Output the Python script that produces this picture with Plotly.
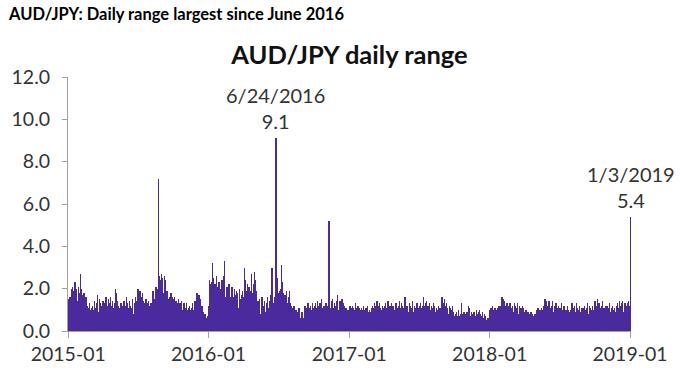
import pandas as pd
import plotly.graph_objects as go

# Daily AUD/JPY range (yen), one value per business day
range_2015 = [
    1.1, 1.5, 1.3, 1.6, 1.0, 1.4, 2.0, 1.7, 2.1, 1.6, 1.9, 1.8, 2.3, 1.5, 2.0, 1.7, 1.9, 1.4, 2.1, 1.6, 1.8, 1.5,
    2.7, 1.6, 2.0, 1.4, 1.7, 1.8, 1.2, 1.5, 1.8, 1.3, 1.6, 1.0, 0.9, 1.2, 0.8, 1.1, 0.9, 1.3, 0.8, 1.0,
    0.9, 0.7, 1.1, 0.8, 1.2, 1.0, 0.9, 1.4, 1.1, 0.8, 1.3, 1.0, 1.7, 1.2, 0.9, 1.5, 1.1, 1.3, 0.8, 1.2, 1.0, 1.4,
    1.2, 0.9, 1.4, 1.0, 1.3, 0.8, 1.6, 1.1, 0.9, 1.2, 1.0, 1.5, 0.8, 1.3, 1.6, 1.1, 0.9, 1.2, 1.4, 1.0, 0.8, 1.1,
    1.3, 2.0, 1.5, 1.8, 1.1, 1.4, 0.9, 1.2, 1.0, 0.8, 1.1, 1.3, 0.9, 1.0, 1.2, 0.7, 1.1, 1.4, 0.9, 1.0, 1.2,
    1.0, 1.6, 1.2, 0.9, 1.3, 1.1, 0.8, 1.4, 1.0, 1.2, 0.9, 1.1, 1.5, 1.0, 0.8, 1.2, 1.3, 0.9, 1.6, 1.1, 1.4, 1.0,
    1.4, 2.0, 1.7, 1.3, 1.9, 1.5, 1.2, 1.6, 1.8, 1.1, 1.4, 1.0, 1.3, 0.9, 1.2, 1.5, 1.1, 0.9, 1.3, 1.0, 1.4, 1.2, 0.9,
    1.0, 1.3, 0.9, 1.2, 1.1, 1.9, 1.4, 1.2, 1.5, 1.0, 2.1, 1.6, 1.3, 1.7, 2.0, 7.2, 2.6, 2.2, 1.8, 2.4, 1.7,
    2.7, 2.2, 1.9, 2.5, 1.8, 2.6, 2.0, 1.7, 2.4, 1.6, 1.9, 1.4, 1.7, 1.5, 1.3, 1.6, 1.2, 1.5, 1.8, 1.3, 1.4, 1.6,
    1.5, 1.3, 1.6, 1.2, 1.0, 1.4, 1.1, 1.3, 0.9, 1.2, 1.5, 1.0, 1.3, 1.1, 0.9, 1.2, 1.4, 1.0, 0.8, 1.1, 1.3, 1.0,
    1.1, 0.9, 1.2, 1.3, 0.8, 1.0, 1.1, 0.9, 1.2, 0.8, 1.0, 0.7, 1.1, 0.9, 1.3, 0.8, 1.0, 0.9, 1.2, 1.4, 0.9,
    1.2, 1.8, 1.0, 1.4, 1.7, 1.1, 1.3, 0.9, 1.5, 1.0, 1.2, 0.8, 1.1, 0.9, 0.7, 0.6, 0.8, 0.5, 0.6, 0.4, 0.7, 0.5, 0.6,
]
range_2016 = [
    1.2, 2.4, 1.8, 2.2, 1.6, 2.3, 1.9, 3.2, 2.0, 2.5, 1.7, 2.2, 1.8, 2.0, 1.5, 2.6, 1.9, 2.1, 1.6, 2.3, 1.8,
    2.0, 1.7, 2.2, 1.5, 2.4, 1.8, 2.1, 2.6, 3.3, 2.0, 1.6, 1.9, 1.4, 2.1, 1.7, 1.5, 2.2, 1.3, 1.8, 1.6, 2.0,
    1.5, 2.1, 1.3, 1.8, 1.6, 2.0, 1.2, 1.7, 1.4, 1.9, 1.5, 1.3, 1.8, 1.1, 1.6, 2.0, 1.4, 1.2, 1.5, 1.7, 1.3, 1.9, 1.4,
    1.6, 3.0, 2.0, 2.4, 1.7, 1.9, 2.2, 1.5, 1.8, 1.4, 2.1, 1.6, 1.3, 1.9, 1.5, 2.7, 1.8, 1.4, 2.0, 2.2, 2.8,
    2.4, 1.9, 1.6, 1.3, 1.1, 1.4, 0.9, 1.2, 1.0, 1.5, 0.8, 1.3, 1.1, 1.6, 0.9, 1.2, 1.0, 1.4, 1.1, 0.9, 1.3, 1.0,
    1.2, 0.9, 1.6, 1.1, 1.3, 1.0, 1.4, 1.7, 1.2, 3.0, 1.5, 1.9, 1.3, 1.6, 1.2, 1.4, 1.8, 9.1, 2.5, 1.9, 1.6, 1.8,
    1.7, 1.4, 1.9, 1.5, 2.0, 3.1, 2.3, 1.6, 1.8, 1.3, 1.5, 1.7, 1.2, 1.4, 1.9, 1.1, 1.3, 1.0, 1.6, 1.2, 1.9,
    1.3, 1.0, 1.2, 0.8, 1.1, 0.7, 0.9, 1.2, 0.6, 0.8, 1.0, 0.5, 0.7, 0.9, 0.6, 0.8, 1.1, 0.5, 0.7, 0.6, 0.9, 0.7, 0.8,
    0.7, 0.9, 0.6, 1.0, 0.8, 1.2, 0.9, 0.7, 1.1, 0.8, 1.0, 1.3, 0.9, 1.1, 0.8, 1.2, 1.0, 0.7, 1.3, 0.9, 1.1, 1.0,
    1.2, 1.0, 1.3, 0.9, 1.1, 1.4, 1.0, 1.2, 0.8, 1.1, 1.3, 0.9, 1.0, 1.2, 1.5, 1.0, 1.1, 0.9, 1.2, 1.0, 1.3,
    1.1, 1.3, 0.9, 1.2, 1.0, 1.4, 5.2, 1.6, 1.3, 1.1, 1.4, 1.0, 1.2, 1.5, 0.9, 1.1, 1.3, 1.0, 1.2, 0.8, 1.4, 1.1,
    1.2, 1.7, 1.0, 1.3, 1.1, 1.4, 0.9, 1.2, 1.5, 1.0, 1.1, 1.3, 0.8, 1.2, 1.0, 0.9, 1.1, 0.7, 0.9, 0.8, 1.0, 0.8,
]
range_2017 = [
    1.0, 1.2, 0.9, 1.1, 0.8, 1.0, 1.2, 0.9, 1.1, 1.0, 0.8, 1.3, 0.9, 1.1, 1.0, 0.8, 1.2, 0.9, 1.0, 1.1, 0.8, 1.0,
    0.9, 1.1, 0.8, 1.0, 1.2, 0.9, 1.0, 0.7, 1.1, 0.9, 1.0, 0.8, 1.2, 0.9, 0.8, 1.0, 0.7, 0.9, 1.1, 0.8,
    1.0, 1.2, 0.9, 1.1, 1.3, 1.0, 0.8, 1.2, 1.0, 1.4, 1.1, 0.9, 1.2, 1.0, 1.3, 0.9, 1.1, 1.0, 0.8, 1.2, 1.0, 0.9, 1.1,
    1.2, 1.0, 1.3, 1.1, 0.9, 1.2, 1.0, 1.4, 1.1, 0.9, 1.2, 1.0, 1.1, 1.3, 0.9, 1.0, 1.2, 1.1, 0.9, 1.0,
    1.1, 1.3, 1.0, 1.2, 0.9, 1.1, 1.0, 1.2, 1.4, 1.0, 1.1, 0.9, 1.3, 1.0, 1.2, 1.1, 0.9, 1.0, 1.3, 1.6, 1.1, 1.0, 1.2,
    1.0, 1.2, 0.9, 1.1, 1.3, 1.0, 1.2, 0.8, 1.1, 1.0, 1.4, 0.9, 1.1, 1.2, 1.0, 0.9, 1.1, 1.3, 1.0, 1.2, 0.9, 1.1,
    1.2, 1.0, 1.3, 1.1, 0.9, 1.2, 1.0, 1.1, 1.6, 1.2, 1.0, 1.3, 0.9, 1.1, 1.4, 1.0, 1.2, 0.9, 1.1, 1.3, 1.0,
    1.0, 1.2, 0.8, 1.1, 0.9, 1.3, 1.0, 0.8, 1.2, 0.9, 1.1, 0.7, 1.0, 0.9, 1.2, 0.8, 1.0, 0.9, 1.1, 0.8, 1.0, 1.6, 1.2,
    1.1, 1.3, 0.9, 1.5, 1.2, 1.0, 1.3, 0.9, 1.1, 1.0, 0.8, 1.2, 0.9, 1.0, 1.1, 0.8, 1.0, 0.9, 1.2, 0.8, 0.9,
    0.7, 0.5, 0.8, 0.6, 0.9, 0.5, 0.7, 0.6, 1.0, 0.5, 0.7, 0.8, 0.6, 1.3, 0.7, 0.5, 0.8, 0.6, 0.9, 0.7, 0.6, 0.8,
    0.8, 0.6, 0.9, 0.7, 1.2, 0.8, 0.6, 1.1, 0.7, 0.9, 0.6, 0.8, 0.7, 0.5, 0.9, 0.6, 0.8, 0.7, 1.0, 0.6, 0.8, 0.7,
    0.7, 0.9, 0.6, 1.0, 0.5, 0.8, 0.6, 0.7, 0.9, 0.5, 0.6, 0.8, 0.5, 0.7, 0.6, 0.4, 0.5, 0.6, 0.4, 0.5, 0.6,
]
range_2018 = [
    0.8, 1.0, 0.7, 1.1, 0.9, 0.8, 1.2, 0.9, 1.0, 0.8, 1.1, 0.9, 0.7, 1.0, 0.8, 1.1, 0.9, 1.0, 1.2, 1.1, 0.9, 1.2, 1.0,
    1.3, 1.6, 1.1, 1.5, 1.2, 1.4, 1.0, 1.2, 0.9, 1.1, 1.3, 1.0, 1.2, 0.9, 1.1, 1.0, 1.3, 0.9, 1.1, 1.0,
    1.0, 1.2, 0.9, 1.1, 1.3, 1.0, 1.2, 0.9, 1.1, 1.0, 1.3, 0.8, 1.1, 1.2, 1.0, 0.9, 1.1, 1.0, 1.2, 0.9, 1.1, 1.0,
    0.9, 0.7, 0.8, 1.0, 0.6, 0.8, 0.7, 0.9, 0.6, 0.8, 0.5, 0.7, 0.9, 0.6, 0.7, 0.8, 0.5, 0.7, 0.6, 0.8, 0.7,
    0.8, 1.0, 0.7, 0.9, 1.1, 0.8, 1.0, 0.9, 0.7, 1.0, 0.8, 1.1, 0.9, 1.0, 0.8, 1.2, 0.9, 1.0, 1.5, 1.2, 1.4, 1.1, 1.0,
    1.2, 1.4, 1.0, 1.3, 1.1, 0.9, 1.2, 1.0, 1.4, 1.1, 0.9, 1.2, 1.0, 1.1, 0.9, 1.3, 1.0, 1.1, 0.8, 1.0, 1.2,
    0.9, 1.1, 0.8, 1.0, 1.3, 0.9, 0.8, 1.0, 0.7, 1.2, 0.9, 0.8, 1.0, 0.7, 0.9, 1.2, 0.8, 1.0, 0.9, 0.7, 1.0, 0.8,
    1.0, 0.8, 1.3, 0.9, 1.1, 0.8, 1.0, 1.2, 0.9, 1.3, 1.0, 0.8, 1.1, 0.9, 1.0, 0.8, 1.2, 0.9, 1.0, 0.8, 1.1, 0.9, 1.0,
    1.1, 0.9, 1.2, 1.0, 0.8, 1.1, 0.9, 1.3, 1.0, 0.8, 1.2, 0.9, 1.0, 1.1, 0.8, 1.0, 0.9, 1.2, 1.0, 0.9,
    1.0, 1.4, 1.1, 0.9, 1.2, 1.0, 1.5, 1.1, 0.9, 1.3, 1.0, 0.8, 1.1, 0.9, 1.2, 1.4, 1.0, 0.9, 1.1, 0.8, 1.0, 1.2, 0.9,
    1.0, 1.2, 0.9, 1.1, 0.8, 1.0, 1.3, 0.9, 1.1, 0.8, 1.0, 1.2, 0.9, 1.0, 0.8, 1.1, 0.9, 1.0, 0.8, 1.2, 0.9, 1.3,
    1.1, 1.4, 1.0, 1.2, 0.9, 1.3, 1.1, 1.0, 1.4, 0.9, 1.2, 1.0, 1.3, 1.1, 0.9, 1.2, 1.0, 1.3, 1.1, 1.4, 1.2,
]
range_2019 = [0.6, 1.4, 5.4]

year_starts = ["2015-01-01", "2016-01-01", "2017-01-02", "2018-01-01", "2019-01-01"]
year_values = [range_2015, range_2016, range_2017, range_2018, range_2019]

# Annotated peaks
peak_dates = ["2016-06-24", "2019-01-03"]
peak_values = [9.1, 5.4]
peak_labels = ["6/24/2016", "1/3/2019"]

y_ticks = [0, 2, 4, 6, 8, 10, 12]
x_ticks = ["2015-01-01", "2016-01-01", "2017-01-01", "2018-01-01", "2019-01-01"]

dates, values = [], []
for start, vals in zip(year_starts, year_values):
    dates.extend(pd.bdate_range(start=start, periods=len(vals)))
    values.extend(vals)

BAR = "#4a2a9c"
TXT = "#333333"

fig = go.Figure(go.Bar(x=dates, y=values, marker=dict(color=BAR, line=dict(width=0)),
                       hoverinfo="x+y"))

for d, v, lab in zip(peak_dates, peak_values, peak_labels):
    fig.add_annotation(x=d, y=v, text=f"{lab}<br>{v:.1f}", showarrow=False,
                       xanchor="center", yanchor="bottom", yshift=3,
                       font=dict(family="Lato", size=20, color=TXT), align="center")

fig.update_layout(
    width=680, height=377,
    margin=dict(l=68, r=43, t=77, b=45),
    paper_bgcolor="white", plot_bgcolor="white",
    bargap=0, showlegend=False,
    title=dict(text="<b>AUD/JPY daily range</b>", x=0.5, xref="paper", xanchor="center",
               y=1 - 55 / 377, yref="container", yanchor="middle",
               font=dict(family="Lato", size=25.5, color="#111111")),
    font=dict(family="Lato", color=TXT),
)
fig.add_annotation(text="<b>AUD/JPY: Daily range largest since June 2016</b>", xref="paper", yref="paper",
                   x=-63 / 569, y=1 + 63 / 255, xanchor="left", yanchor="middle", showarrow=False,
                   font=dict(family="Lato", size=16.5, color="#000000"))

fig.update_xaxes(type="date", range=["2014-12-31 12:00", "2019-01-03 12:00"],
                 tickvals=x_ticks, tickformat="%Y-%m",
                 showline=True, linecolor="#a0a0a0", linewidth=1,
                 ticks="outside", ticklen=6, tickcolor="#a0a0a0",
                 showgrid=False, zeroline=False,
                 tickfont=dict(family="Lato", size=19.5, color=TXT))
fig.update_yaxes(range=[0, 12], tickvals=y_ticks, tickformat=".1f",
                 showline=True, linecolor="#a0a0a0", linewidth=1,
                 ticks="outside", ticklen=5, tickcolor="#a0a0a0", ticklabelstandoff=8,
                 showgrid=False, zeroline=False,
                 tickfont=dict(family="Lato", size=19.5, color=TXT))

fig.write_html("out.html", config={"displayModeBar": False},
               post_script="document.body.style.margin='0';")
